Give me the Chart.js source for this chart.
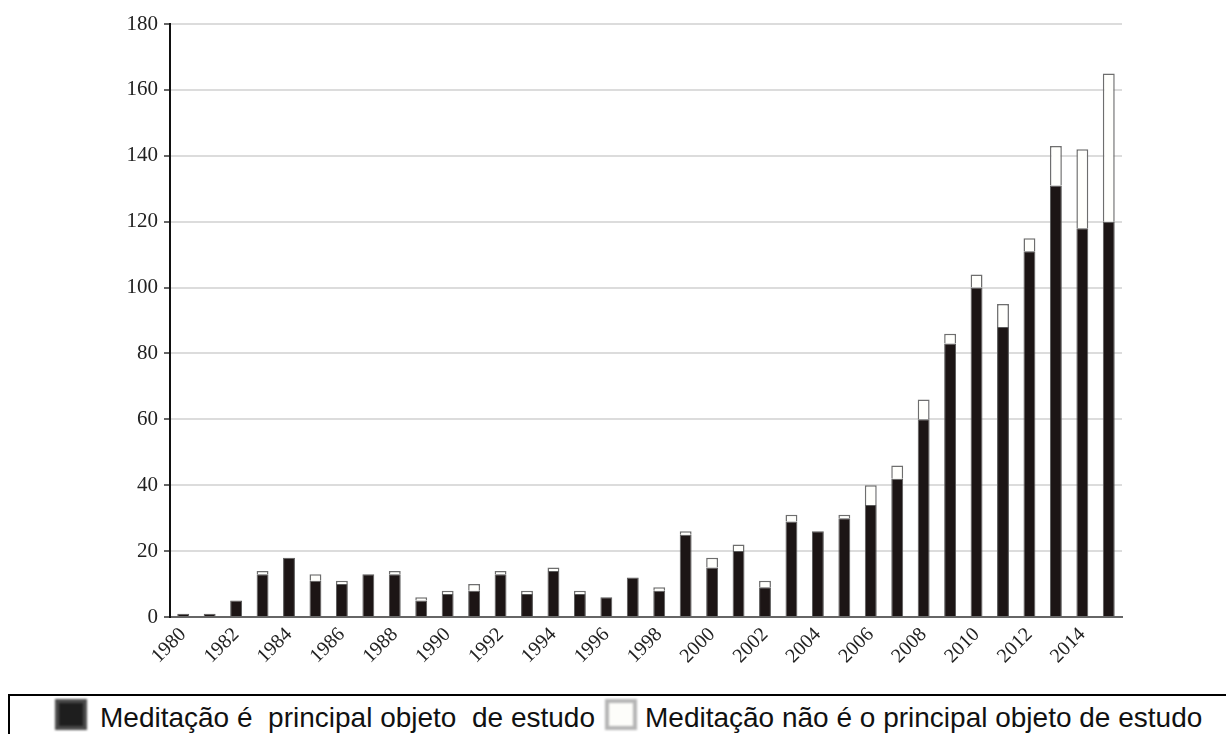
<!DOCTYPE html>
<html>
<head>
<meta charset="utf-8">
<script src="https://cdn.jsdelivr.net/npm/chart.js@4/dist/chart.umd.min.js"></script>
<style>
  html, body { margin: 0; padding: 0; background: #fff; }
  body { width: 1226px; height: 734px; position: relative; overflow: hidden; }
  #wrap { position: absolute; left: 0; top: 0; width: 1226px; height: 690px; }
  #legend {
    position: absolute; left: 8px; top: 694px; width: 1230px; height: 90px;
    border-top: 2px solid #000; border-left: 2px solid #000;
    font-family: "Liberation Sans", Arial, sans-serif; font-size: 28px; color: #111;
    white-space: pre;
  }
  .item { position: absolute; top: 8px; line-height: 28px; }
  .sw { position: absolute; top: 3px; width: 32px; height: 31px; box-sizing: border-box; filter: blur(1.2px); }
</style>
</head>
<body>
<div id="wrap"><canvas id="c" width="1226" height="690"></canvas></div>
<div id="legend">
  <span class="sw" style="left:45px; background:#1e1e1e; border:4px solid #4a4a4a;"></span>
  <span class="item" style="left:90px;">Meditação é  principal objeto  de estudo</span>
  <span class="sw" style="left:595px; background:#fdfdfa; border:4px solid #b5b5b5;"></span>
  <span class="item" style="left:635px;">Meditação não é o principal objeto de estudo</span>
</div>
<script>
const years = ["1980","1981","1982","1983","1984","1985","1986","1987","1988","1989","1990","1991","1992","1993","1994","1995","1996","1997","1998","1999","2000","2001","2002","2003","2004","2005","2006","2007","2008","2009","2010","2011","2012","2013","2014","2015"];
const principal = [1,1,5,13,18,11,10,13,13,5,7,8,13,7,14,7,6,12,8,25,15,20,9,29,26,30,34,42,60,83,100,88,111,131,118,120];
const naoPrincipal = [0,0,0,1,0,2,1,0,1,1,1,2,1,1,1,1,0,0,1,1,3,2,2,2,0,1,6,4,6,3,4,7,4,12,24,45];
const yTicks = [0,20,40,60,80,100,120,140,160,180];
const seriesNames = ["Meditação é  principal objeto  de estudo","Meditação não é o principal objeto de estudo"];

const serif = '"Liberation Serif", "DejaVu Serif", serif';

new Chart(document.getElementById('c'), {
  type: 'bar',
  data: {
    labels: years,
    datasets: [
      { label: seriesNames[0], data: principal, backgroundColor: '#1c1515', borderColor: '#5a5a5a', borderWidth: 1, barPercentage: 0.45, categoryPercentage: 1 },
      { label: seriesNames[1], data: naoPrincipal, backgroundColor: '#fffffc', borderColor: '#6e6e6e', borderWidth: 1.5, barPercentage: 0.45, categoryPercentage: 1 }
    ]
  },
  options: {
    responsive: false,
    animation: false,
    layout: { padding: { top: 24, right: 104, left: 0, bottom: 0 } },
    plugins: { legend: { display: false }, tooltip: { enabled: false } },
    scales: {
      x: {
        stacked: true,
        grid: { display: false, drawTicks: false },
        border: { color: '#666', width: 2 },
        ticks: {
          autoSkip: false, maxRotation: 45, minRotation: 45, padding: 6,
          color: '#222', font: { family: serif, size: 20 },
          callback: function(v, i) { return i % 2 === 0 ? years[i] : ''; }
        },
        afterFit: function(s) { s.height = 73; }
      },
      y: {
        stacked: true,
        min: 0, max: 180,
        afterBuildTicks: function(s) { s.ticks = yTicks.map(v => ({ value: v })); },
        grid: { color: '#dcdcdc', lineWidth: 2, tickLength: 6, tickColor: '#333', tickWidth: 1.5 },
        border: { color: '#111', width: 2 },
        ticks: { padding: 6, color: '#222', font: { family: serif, size: 21 } },
        afterFit: function(s) { s.width = 170; }
      }
    }
  }
});
</script>
</body>
</html>
